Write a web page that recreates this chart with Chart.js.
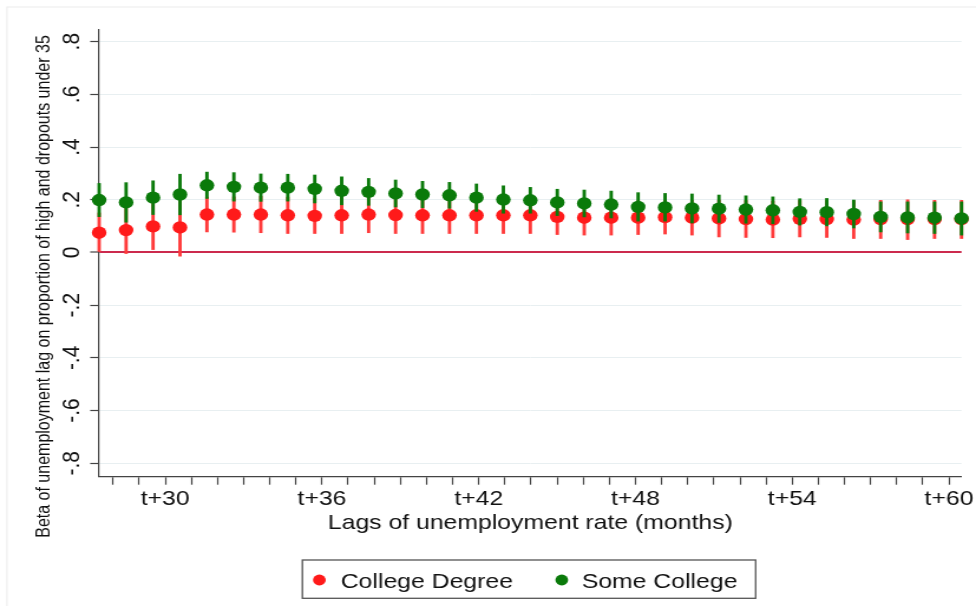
<!DOCTYPE html>
<html>
<head>
<meta charset="utf-8">
<script src="https://cdn.jsdelivr.net/npm/chart.js@4/dist/chart.umd.min.js"></script>
<style>
  html, body { margin: 0; padding: 0; background: #fff; overflow: hidden; }
  /* the graph is laid out on a narrower canvas and widened to the page */
  #wrap { position: absolute; left: 0; top: 0; width: 827px; height: 606px;
          transform: scaleX(1.18017); transform-origin: 0 0; }
</style>
</head>
<body>
<div id="wrap"><canvas id="c"></canvas></div>
<script>
// Lags of the unemployment rate, in months
const lags = [28, 29, 30, 31, 32, 33, 34, 35, 36, 37, 38, 39, 40, 41, 42, 43, 44,
              45, 46, 47, 48, 49, 50, 51, 52, 53, 54, 55, 56, 57, 58, 59, 60];
const tickLags = [30, 36, 42, 48, 54, 60];
const seriesNames = ['College Degree', 'Some College'];

// College Degree: coefficient and confidence bounds
const collegeBeta = [0.075, 0.085, 0.099, 0.095, 0.144, 0.144, 0.144, 0.141, 0.139, 0.141, 0.144,
                     0.142, 0.141, 0.141, 0.141, 0.141, 0.141, 0.135, 0.132, 0.132, 0.132, 0.134,
                     0.132, 0.129, 0.127, 0.125, 0.128, 0.127, 0.125, 0.127, 0.127, 0.127, 0.127];
const collegeLow  = [0.000, -0.004, 0.011, -0.014, 0.078, 0.077, 0.075, 0.072, 0.072, 0.072, 0.075,
                     0.072, 0.072, 0.072, 0.072, 0.072, 0.072, 0.068, 0.066, 0.066, 0.068, 0.070,
                     0.066, 0.059, 0.057, 0.056, 0.059, 0.057, 0.053, 0.053, 0.049, 0.053, 0.053];
const collegeHigh = [0.150, 0.174, 0.187, 0.204, 0.210, 0.211, 0.213, 0.210, 0.206, 0.210, 0.213,
                     0.212, 0.210, 0.210, 0.210, 0.210, 0.210, 0.202, 0.198, 0.198, 0.196, 0.198,
                     0.198, 0.199, 0.197, 0.194, 0.197, 0.197, 0.196, 0.198, 0.200, 0.198, 0.198];

// Some College: coefficient and confidence bounds
const someBeta = [0.199, 0.190, 0.208, 0.220, 0.255, 0.249, 0.246, 0.246, 0.241, 0.234, 0.230,
                  0.224, 0.220, 0.217, 0.208, 0.201, 0.198, 0.190, 0.186, 0.182, 0.173, 0.171,
                  0.167, 0.166, 0.163, 0.160, 0.154, 0.153, 0.146, 0.135, 0.133, 0.132, 0.129];
const someLow  = [0.136, 0.115, 0.144, 0.143, 0.205, 0.195, 0.194, 0.195, 0.188, 0.181, 0.179,
                  0.173, 0.170, 0.168, 0.156, 0.149, 0.149, 0.140, 0.135, 0.131, 0.119, 0.119,
                  0.112, 0.114, 0.111, 0.109, 0.104, 0.101, 0.093, 0.078, 0.074, 0.072, 0.066];
const someHigh = [0.262, 0.265, 0.272, 0.297, 0.305, 0.303, 0.298, 0.297, 0.294, 0.287, 0.281,
                  0.275, 0.270, 0.266, 0.260, 0.253, 0.247, 0.240, 0.237, 0.233, 0.227, 0.224,
                  0.222, 0.218, 0.215, 0.211, 0.204, 0.205, 0.199, 0.192, 0.192, 0.192, 0.192];

const RED = '#ff1a1a';
const GREEN = '#0a7a0a';
const FONT = '"Liberation Sans", Arial, Helvetica, sans-serif';

const points = (ys) => lags.map((x, i) => ({ x: x, y: ys[i] }));
const spans = (lo, hi) => lags.map((x, i) => ({ x: x, y: [lo[i], hi[i]] }));

// Stata-style number format: .8, -.2, 0
const stataFmt = (v) => {
  if (Math.abs(v) < 1e-9) return '0';
  return (v < 0 ? '-' : '') + Math.abs(v).toFixed(1).replace(/^0/, '');
};

const decor = {
  id: 'decor',
  beforeDraw(chart) {
    const ctx = chart.ctx;
    ctx.save();
    ctx.fillStyle = '#fff';
    ctx.fillRect(0, 0, chart.width, chart.height);
    ctx.strokeStyle = '#ececec';
    ctx.lineWidth = 1;
    ctx.strokeRect(5.9, 7, chart.width + 20, chart.height + 20);
    ctx.restore();
  },
  afterDraw(chart) {
    const ctx = chart.ctx;
    const ys = chart.scales.y;
    ctx.save();
    ctx.fillStyle = '#111';

    // rotated y tick labels
    ctx.font = '21px ' + FONT;
    ctx.textAlign = 'center';
    ctx.textBaseline = 'middle';
    ys.ticks.forEach(t => {
      const py = ys.getPixelForValue(t.value);
      ctx.save();
      ctx.translate(60.8, py);
      ctx.rotate(-Math.PI / 2);
      ctx.fillText(stataFmt(t.value), 0, 0);
      ctx.restore();
    });

    // y axis title
    ctx.save();
    ctx.font = '16px ' + FONT;
    ctx.translate(37.3, 286.5);
    ctx.rotate(-Math.PI / 2);
    ctx.fillText('Beta of unemployment lag on proportion of high and dropouts under 35', 0, 0);
    ctx.restore();

    // legend box
    ctx.strokeStyle = '#555';
    ctx.lineWidth = 1.3;
    ctx.strokeRect(256.2, 560, 384.1, 38.3);
    const items = [
      { name: seriesNames[0], color: RED, dot: 270.6, text: 288.7 },
      { name: seriesNames[1], color: GREEN, dot: 476.0, text: 492.9 }
    ];
    ctx.font = '21px ' + FONT;
    ctx.textAlign = 'left';
    items.forEach(it => {
      ctx.fillStyle = it.color;
      ctx.beginPath();
      ctx.arc(it.dot, 580, 5.4, 0, Math.PI * 2);
      ctx.fill();
      ctx.fillStyle = '#111';
      ctx.fillText(it.name, it.text, 582);
    });
    ctx.restore();
  }
};

new Chart(document.getElementById('c'), {
  type: 'bar',
  data: {
    datasets: [
      { type: 'line', label: seriesNames[1], data: points(someBeta), showLine: false,
        pointRadius: 6.2, pointHoverRadius: 6.2, pointBackgroundColor: GREEN, pointBorderWidth: 0,
        order: 1, clip: false },
      { type: 'bar', label: seriesNames[1], data: spans(someLow, someHigh), backgroundColor: GREEN,
        barThickness: 2.2, grouped: false, borderWidth: 0, order: 2, clip: false },
      { type: 'line', label: seriesNames[0], data: points(collegeBeta), showLine: false,
        pointRadius: 6.2, pointHoverRadius: 6.2, pointBackgroundColor: RED, pointBorderWidth: 0,
        order: 3, clip: false },
      { type: 'bar', label: seriesNames[0], data: spans(collegeLow, collegeHigh), backgroundColor: '#ff3a3a',
        barThickness: 2.2, grouped: false, borderWidth: 0, order: 4, clip: false }
    ]
  },
  options: {
    responsive: true,
    maintainAspectRatio: false,
    animation: false,
    events: [],
    layout: { padding: { top: 29.3, right: 9.3, bottom: 69.7, left: 0 } },
    plugins: { legend: { display: false }, tooltip: { enabled: false } },
    scales: {
      x: { type: 'linear', offset: false, min: lags[0], max: lags[lags.length - 1], display: false },
      xt: {
        type: 'linear', position: 'bottom', axis: 'x', offset: false,
        min: 27.47, max: 60.48,
        afterFit: (s) => { s.height = 59.6; },
        border: { display: true, color: '#444', width: 1.3 },
        grid: { offset: false, drawOnChartArea: false, drawTicks: true, tickLength: 8, tickColor: '#444', tickWidth: 1.2 },
        ticks: {
          stepSize: 1, includeBounds: false, autoSkip: false, maxRotation: 0, minRotation: 0,
          padding: 2, color: '#111', font: { family: FONT, size: 21 },
          callback: (v) => tickLags.includes(v) ? 't+' + v : ''
        },
        title: { display: true, text: 'Lags of unemployment rate (months)', color: '#111',
                 font: { family: FONT, size: 21 }, padding: { top: 0, bottom: 0 } }
      },
      y: {
        type: 'linear', min: -0.851, max: 0.847,
        afterFit: (s) => { s.width = 84; },
        border: { display: true, color: '#444', width: 1.2 },
        grid: {
          color: (c) => Math.abs(c.tick.value) < 1e-9 ? '#cc2a4e' : '#e8eff1',
          lineWidth: (c) => Math.abs(c.tick.value) < 1e-9 ? 2 : 1,
          drawTicks: true, tickLength: 7.6, tickColor: '#444', tickWidth: 1.2
        },
        ticks: { stepSize: 0.2, includeBounds: false, display: false }
      }
    }
  },
  plugins: [decor]
});
</script>
</body>
</html>
